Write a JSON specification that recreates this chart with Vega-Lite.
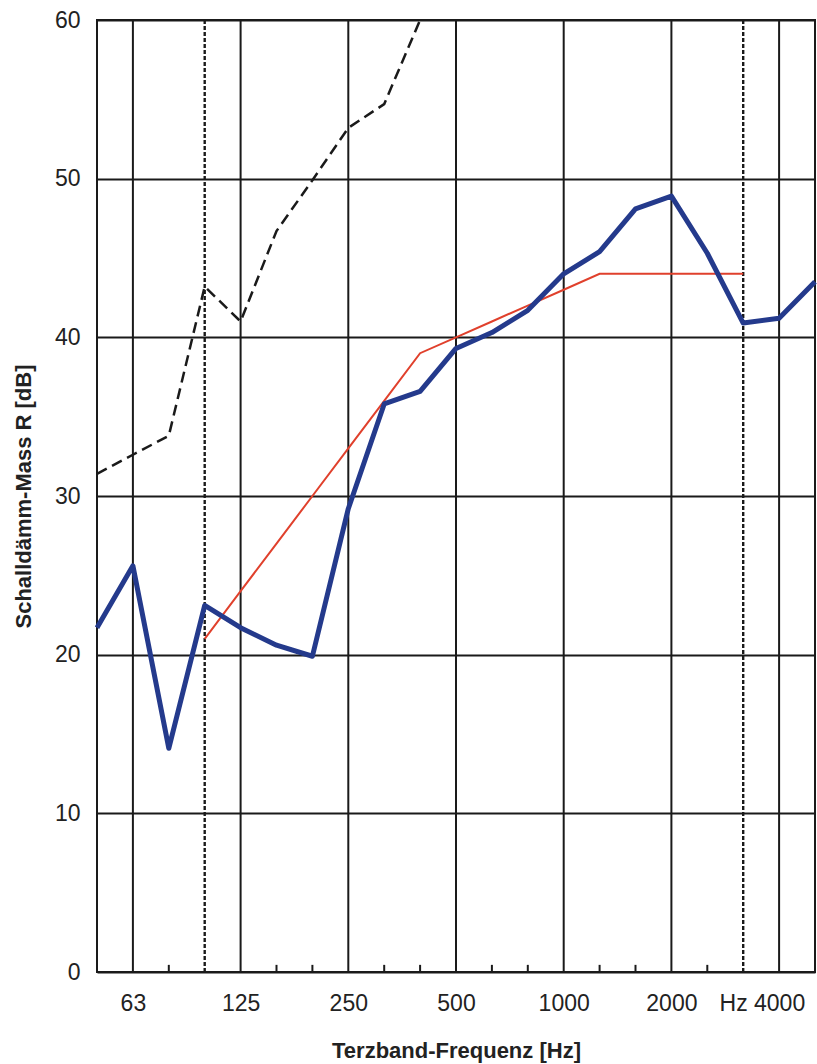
{
  "$schema": "https://vega.github.io/schema/vega-lite/v6.json",
  "width": 718,
  "height": 952,
  "autosize": "none",
  "padding": {"left": 97, "top": 20, "right": 2, "bottom": 92},
  "background": "white",
  "config": {
    "view": {"stroke": "#1a1a1a", "strokeWidth": 2},
    "axis": {
      "labelFont": "Liberation Sans",
      "titleFont": "Liberation Sans",
      "labelColor": "#222222",
      "titleColor": "#222222",
      "domain": false,
      "ticks": false,
      "labelFlush": false
    },
    "axisX": {
      "grid": false,
      "labelFontSize": 23,
      "labelPadding": 20,
      "titleFontSize": 22,
      "titleFontWeight": "bold",
      "titlePadding": 25
    },
    "axisY": {
      "grid": true,
      "gridColor": "#1a1a1a",
      "gridWidth": 1.8,
      "gridOpacity": 1,
      "labelFontSize": 23,
      "labelPadding": 17,
      "titleFontSize": 22,
      "titleFontWeight": "bold",
      "titlePadding": 19
    }
  },
  "datasets": {
    "bands": [
      {"band": 0, "freq": 50, "kind": "edge"},
      {"band": 1, "freq": 63, "kind": "octave"},
      {"band": 2, "freq": 80, "kind": "third"},
      {"band": 3, "freq": 100, "kind": "limit"},
      {"band": 4, "freq": 125, "kind": "octave"},
      {"band": 5, "freq": 160, "kind": "third"},
      {"band": 6, "freq": 200, "kind": "third"},
      {"band": 7, "freq": 250, "kind": "octave"},
      {"band": 8, "freq": 315, "kind": "third"},
      {"band": 9, "freq": 400, "kind": "third"},
      {"band": 10, "freq": 500, "kind": "octave"},
      {"band": 11, "freq": 630, "kind": "third"},
      {"band": 12, "freq": 800, "kind": "third"},
      {"band": 13, "freq": 1000, "kind": "octave"},
      {"band": 14, "freq": 1250, "kind": "third"},
      {"band": 15, "freq": 1600, "kind": "third"},
      {"band": 16, "freq": 2000, "kind": "octave"},
      {"band": 17, "freq": 2500, "kind": "third"},
      {"band": 18, "freq": 3150, "kind": "limit"},
      {"band": 19, "freq": 4000, "kind": "octave"},
      {"band": 20, "freq": 5000, "kind": "edge"}
    ],
    "curves": [
      {"series": "gemessen", "band": 0, "freq": 50, "R": 21.7},
      {"series": "gemessen", "band": 1, "freq": 63, "R": 25.6},
      {"series": "gemessen", "band": 2, "freq": 80, "R": 14.1},
      {"series": "gemessen", "band": 3, "freq": 100, "R": 23.1},
      {"series": "gemessen", "band": 4, "freq": 125, "R": 21.7},
      {"series": "gemessen", "band": 5, "freq": 160, "R": 20.6},
      {"series": "gemessen", "band": 6, "freq": 200, "R": 19.9},
      {"series": "gemessen", "band": 7, "freq": 250, "R": 29.2},
      {"series": "gemessen", "band": 8, "freq": 315, "R": 35.8},
      {"series": "gemessen", "band": 9, "freq": 400, "R": 36.6},
      {"series": "gemessen", "band": 10, "freq": 500, "R": 39.3},
      {"series": "gemessen", "band": 11, "freq": 630, "R": 40.3},
      {"series": "gemessen", "band": 12, "freq": 800, "R": 41.7},
      {"series": "gemessen", "band": 13, "freq": 1000, "R": 44.0},
      {"series": "gemessen", "band": 14, "freq": 1250, "R": 45.4},
      {"series": "gemessen", "band": 15, "freq": 1600, "R": 48.1},
      {"series": "gemessen", "band": 16, "freq": 2000, "R": 48.9},
      {"series": "gemessen", "band": 17, "freq": 2500, "R": 45.3},
      {"series": "gemessen", "band": 18, "freq": 3150, "R": 40.9},
      {"series": "gemessen", "band": 19, "freq": 4000, "R": 41.2},
      {"series": "gemessen", "band": 20, "freq": 5000, "R": 43.5},
      {"series": "Bezugskurve", "band": 3, "freq": 100, "R": 21},
      {"series": "Bezugskurve", "band": 4, "freq": 125, "R": 24},
      {"series": "Bezugskurve", "band": 5, "freq": 160, "R": 27},
      {"series": "Bezugskurve", "band": 6, "freq": 200, "R": 30},
      {"series": "Bezugskurve", "band": 7, "freq": 250, "R": 33},
      {"series": "Bezugskurve", "band": 8, "freq": 315, "R": 36},
      {"series": "Bezugskurve", "band": 9, "freq": 400, "R": 39},
      {"series": "Bezugskurve", "band": 10, "freq": 500, "R": 40},
      {"series": "Bezugskurve", "band": 11, "freq": 630, "R": 41},
      {"series": "Bezugskurve", "band": 12, "freq": 800, "R": 42},
      {"series": "Bezugskurve", "band": 13, "freq": 1000, "R": 43},
      {"series": "Bezugskurve", "band": 14, "freq": 1250, "R": 44},
      {"series": "Bezugskurve", "band": 15, "freq": 1600, "R": 44},
      {"series": "Bezugskurve", "band": 16, "freq": 2000, "R": 44},
      {"series": "Bezugskurve", "band": 17, "freq": 2500, "R": 44},
      {"series": "Bezugskurve", "band": 18, "freq": 3150, "R": 44},
      {"series": "Vergleich", "band": 0, "freq": 50, "R": 31.4},
      {"series": "Vergleich", "band": 1, "freq": 63, "R": 32.6},
      {"series": "Vergleich", "band": 2, "freq": 80, "R": 33.8},
      {"series": "Vergleich", "band": 3, "freq": 100, "R": 43.2},
      {"series": "Vergleich", "band": 4, "freq": 125, "R": 41.0},
      {"series": "Vergleich", "band": 5, "freq": 160, "R": 46.7},
      {"series": "Vergleich", "band": 6, "freq": 200, "R": 49.9},
      {"series": "Vergleich", "band": 7, "freq": 250, "R": 53.2},
      {"series": "Vergleich", "band": 8, "freq": 315, "R": 54.7},
      {"series": "Vergleich", "band": 9, "freq": 400, "R": 60}
    ]
  },
  "encoding": {
    "x": {
      "field": "band",
      "type": "quantitative",
      "scale": {"domain": [0, 20], "nice": false, "zero": false},
      "axis": {
        "title": "Terzband-Frequenz [Hz]",
        "values": [1, 4, 7, 10, 13, 16, 17.72, 19],
        "labelExpr": "datum.value == 1 ? '63' : datum.value == 4 ? '125' : datum.value == 7 ? '250' : datum.value == 10 ? '500' : datum.value == 13 ? '1000' : datum.value == 16 ? '2000' : datum.value == 19 ? '4000' : (datum.value > 17 && datum.value < 18) ? 'Hz' : ''"
      }
    }
  },
  "layer": [
    {
      "data": {"name": "bands"},
      "transform": [{"filter": "datum.kind == 'octave'"}],
      "mark": {"type": "rule", "color": "#1a1a1a", "strokeWidth": 2},
      "encoding": {}
    },
    {
      "data": {"name": "bands"},
      "transform": [{"filter": "datum.kind == 'limit'"}],
      "mark": {"type": "rule", "color": "#1a1a1a", "strokeWidth": 2.4, "strokeDash": [4, 2]},
      "encoding": {}
    },
    {
      "data": {"name": "bands"},
      "transform": [{"filter": "datum.kind == 'third'"}],
      "mark": {"type": "rule", "color": "#1a1a1a", "strokeWidth": 2},
      "encoding": {
        "y": {"datum": 0, "type": "quantitative", "scale": {"domain": [0, 60], "nice": false}, "axis": {"title": "Schalldämm-Mass R [dB]", "values": [0, 10, 20, 30, 40, 50, 60]}},
        "y2": {"datum": 0.45}
      }
    },
    {
      "data": {"name": "curves"},
      "transform": [{"filter": "datum.series == 'Vergleich'"}],
      "mark": {"type": "line", "color": "#1a1a1a", "strokeWidth": 2.5, "strokeDash": [11, 6]},
      "encoding": {
        "y": {"field": "R", "type": "quantitative", "scale": {"domain": [0, 60], "nice": false}, "axis": {"title": "Schalldämm-Mass R [dB]", "values": [0, 10, 20, 30, 40, 50, 60]}}
      }
    },
    {
      "data": {"name": "curves"},
      "transform": [{"filter": "datum.series == 'Bezugskurve'"}],
      "mark": {"type": "line", "color": "#e0402c", "strokeWidth": 2},
      "encoding": {
        "y": {"field": "R", "type": "quantitative", "scale": {"domain": [0, 60], "nice": false}, "axis": {"title": "Schalldämm-Mass R [dB]", "values": [0, 10, 20, 30, 40, 50, 60]}}
      }
    },
    {
      "data": {"name": "curves"},
      "transform": [{"filter": "datum.series == 'gemessen'"}],
      "mark": {"type": "line", "color": "#243a8c", "strokeWidth": 5, "strokeJoin": "round"},
      "encoding": {
        "y": {"field": "R", "type": "quantitative", "scale": {"domain": [0, 60], "nice": false}, "axis": {"title": "Schalldämm-Mass R [dB]", "values": [0, 10, 20, 30, 40, 50, 60]}}
      }
    }
  ]
}
